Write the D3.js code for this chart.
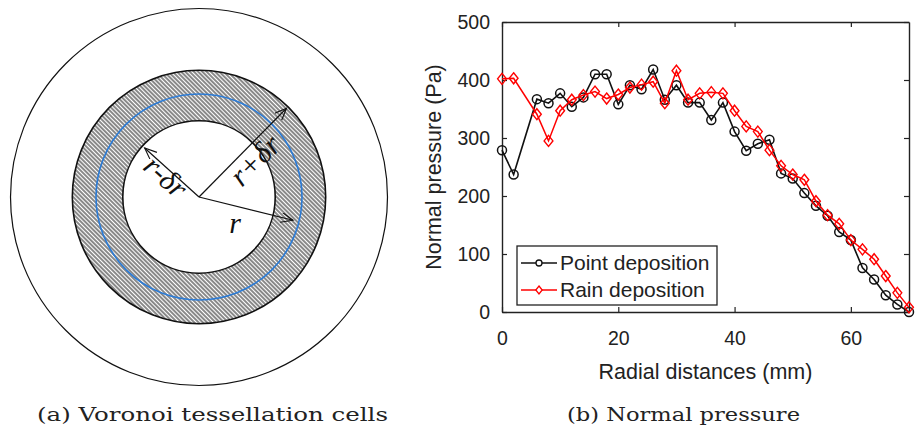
<!DOCTYPE html>
<html>
<head>
<meta charset="utf-8">
<script src="https://cdn.jsdelivr.net/npm/d3@7"></script>
<style>
  body { margin: 0; background: #fff; }
  svg { display: block; }
</style>
</head>
<body>
<svg id="fig" width="917" height="432"></svg>
<script>
// data
var distances = [0, 2, 6, 8, 10, 12, 14, 16, 18, 20, 22, 24, 26, 28, 30, 32, 34, 36, 38, 40, 42, 44, 46, 48, 50, 52, 54, 56, 58, 60, 62, 64, 66, 68, 70];
var pointDeposition = [279, 237, 367, 360, 377, 354, 370, 410, 410, 358, 391, 384, 418, 366, 391, 361, 361, 331, 361, 311, 278, 290, 297, 239, 230, 205, 183, 166, 138, 124, 76, 56, 29, 13, 0];
var rainDeposition = [402, 403, 341, 295, 347, 366, 374, 380, 368, 375, 387, 392, 397, 360, 416, 366, 377, 379, 377, 347, 320, 311, 279, 252, 237, 228, 191, 167, 152, 124, 108, 91, 62, 33, 8];
var xTicks = [0, 20, 40, 60];
var yTicks = [0, 100, 200, 300, 400, 500];
var seriesNames = ['Point deposition', 'Rain deposition'];

// diagram (a): radii in units of r
var ringRadii = { inner: 0.74, mid: 1.0, outer: 1.23, domain: 1.83 };
var arrows = [
  { angle: 138, len: 0.71, label: 'r-\u03b4r', rot: 42, lx: -0.32, ly: 0.20 },
  { angle: 45.4, len: 1.21, label: 'r+\u03b4r', rot: -45, lx: 0.54, ly: 0.36 },
  { angle: -13.9, len: 0.94, label: 'r', rot: 0, lx: 0.35, ly: -0.25 }
];

var svg = d3.select('#fig');

// ---------- (a) Voronoi cells ----------
var defs = svg.append('defs');
var pat = defs.append('pattern')
  .attr('id', 'hatch')
  .attr('patternUnits', 'userSpaceOnUse')
  .attr('width', 3).attr('height', 3)
  .attr('patternTransform', 'rotate(-45)');
pat.append('rect').attr('width', 3).attr('height', 3).attr('fill', '#fff');
pat.append('line').attr('x1', 1).attr('y1', 0).attr('x2', 1).attr('y2', 3)
  .attr('stroke', '#3a3a3a').attr('stroke-width', 1.2);

defs.append('marker')
  .attr('id', 'arrow')
  .attr('markerUnits', 'userSpaceOnUse')
  .attr('markerWidth', 14).attr('markerHeight', 12)
  .attr('refX', 12).attr('refY', 5)
  .attr('orient', 'auto')
  .append('path')
  .attr('d', 'M0,0 L12,5 L0,10')
  .attr('fill', 'none').attr('stroke', '#111').attr('stroke-width', 1.1);

var cx = 199, cy = 197;
var rs = d3.scaleLinear().domain([0, 1]).range([0, 103]);
var ga = svg.append('g').attr('transform', 'translate(' + cx + ',' + cy + ')');

ga.append('circle').attr('r', rs(ringRadii.domain))
  .attr('fill', 'none').attr('stroke', '#111').attr('stroke-width', 1.2);
ga.append('circle').attr('r', rs(ringRadii.outer))
  .attr('fill', 'url(#hatch)').attr('stroke', '#111').attr('stroke-width', 1.6);
ga.append('circle').attr('r', rs(ringRadii.inner))
  .attr('fill', '#fff').attr('stroke', '#111').attr('stroke-width', 1.6);
ga.append('circle').attr('r', rs(ringRadii.mid))
  .attr('fill', 'none').attr('stroke', '#2b7bd6').attr('stroke-width', 1.6);

arrows.forEach(function(a) {
  var t = a.angle * Math.PI / 180;
  ga.append('line')
    .attr('x1', 0).attr('y1', 0)
    .attr('x2', rs(a.len) * Math.cos(t)).attr('y2', -rs(a.len) * Math.sin(t))
    .attr('stroke', '#111').attr('stroke-width', 1.2)
    .attr('marker-end', 'url(#arrow)');
  ga.append('text')
    .attr('transform', 'translate(' + rs(a.lx) + ',' + (-rs(a.ly)) + ') rotate(' + a.rot + ')')
    .attr('text-anchor', 'middle')
    .attr('dy', '0.35em')
    .style('font-family', '"Liberation Serif", "Times New Roman", serif')
    .style('font-style', 'italic')
    .style('font-size', '30px')
    .attr('fill', '#111')
    .text(a.label);
});

// ---------- (b) Normal pressure ----------
var x = d3.scaleLinear().domain([0, 70]).range([502, 909]);
var y = d3.scaleLinear().domain([0, 500]).range([312, 22]);
var sans = '"Liberation Sans", Arial, sans-serif';

var gb = svg.append('g');

gb.append('g')
  .attr('transform', 'translate(0,' + y(0) + ')')
  .call(d3.axisBottom(x).tickValues(xTicks).tickSizeInner(-5).tickSizeOuter(0).tickPadding(19))
  .call(styleAxis);
gb.append('g')
  .attr('transform', 'translate(' + x(0) + ',0)')
  .call(d3.axisLeft(y).tickValues(yTicks).tickSizeInner(-5).tickSizeOuter(0).tickPadding(12))
  .call(styleAxis);
gb.append('g')
  .attr('transform', 'translate(0,' + y(500) + ')')
  .call(d3.axisTop(x).tickValues(xTicks).tickSizeInner(-5).tickSizeOuter(0).tickFormat(''))
  .call(styleAxis);
gb.append('g')
  .attr('transform', 'translate(' + x(70) + ',0)')
  .call(d3.axisRight(y).tickValues(yTicks).tickSizeInner(-5).tickSizeOuter(0).tickFormat(''))
  .call(styleAxis);

function styleAxis(g) {
  g.select('.domain').attr('stroke', '#222').attr('stroke-width', 1.4);
  g.selectAll('.tick line').attr('stroke', '#222').attr('stroke-width', 1.2);
  g.selectAll('.tick text').attr('fill', '#222')
    .style('font-family', sans).style('font-size', '19.5px');
}

var rows = distances.map(function(d, i) {
  return { d: d, p: pointDeposition[i], r: rainDeposition[i] };
});

var linePoint = d3.line().x(function(d) { return x(d.d); }).y(function(d) { return y(d.p); });
var lineRain = d3.line().x(function(d) { return x(d.d); }).y(function(d) { return y(d.r); });

var diamond = function(s) { return 'M0,' + (-s) + 'L' + (s * 0.8) + ',0L0,' + s + 'L' + (-s * 0.8) + ',0Z'; };

// point deposition first, rain on top
gb.append('path').datum(rows).attr('d', linePoint)
  .attr('fill', 'none').attr('stroke', '#111').attr('stroke-width', 1.6);
gb.selectAll('.pt').data(rows).enter().append('circle')
  .attr('class', 'pt')
  .attr('cx', function(d) { return x(d.d); })
  .attr('cy', function(d) { return y(d.p); })
  .attr('r', 4.5)
  .attr('fill', 'none').attr('stroke', '#111').attr('stroke-width', 1.5);

gb.append('path').datum(rows).attr('d', lineRain)
  .attr('fill', 'none').attr('stroke', '#f00').attr('stroke-width', 1.5);
gb.selectAll('.rn').data(rows).enter().append('path')
  .attr('class', 'rn')
  .attr('transform', function(d) { return 'translate(' + x(d.d) + ',' + y(d.r) + ')'; })
  .attr('d', diamond(5.5))
  .attr('fill', 'none').attr('stroke', '#f00').attr('stroke-width', 1.4);

// axis titles
gb.append('text')
  .attr('x', (x(0) + x(70)) / 2).attr('y', 371)
  .attr('text-anchor', 'middle').attr('dy', '0.35em')
  .style('font-family', sans).style('font-size', '21.5px').attr('fill', '#222')
  .text('Radial distances (mm)');
gb.append('text')
  .attr('transform', 'translate(433,' + (y(0) + y(500)) / 2 + ') rotate(-90)')
  .attr('text-anchor', 'middle').attr('dy', '0.35em')
  .style('font-family', sans).style('font-size', '21.5px').attr('fill', '#222')
  .text('Normal pressure (Pa)');

// legend
var lg = gb.append('g').attr('transform', 'translate(517,246)');
lg.append('rect').attr('width', 200).attr('height', 59)
  .attr('fill', '#fff').attr('stroke', '#222').attr('stroke-width', 1.3);
var legendColors = ['#111', '#f00'];
seriesNames.forEach(function(name, i) {
  var yy = 17 + i * 27;
  lg.append('line').attr('x1', 4).attr('x2', 40).attr('y1', yy).attr('y2', yy)
    .attr('stroke', legendColors[i]).attr('stroke-width', 1.5);
  if (i === 0) {
    lg.append('circle').attr('cx', 22).attr('cy', yy).attr('r', 3)
      .attr('fill', '#fff').attr('stroke', legendColors[i]).attr('stroke-width', 1.3);
  } else {
    lg.append('path').attr('transform', 'translate(22,' + yy + ')').attr('d', diamond(4))
      .attr('fill', '#fff').attr('stroke', legendColors[i]).attr('stroke-width', 1.3);
  }
  lg.append('text').attr('x', 43).attr('y', yy).attr('dy', '0.35em')
    .style('font-family', sans).style('font-size', '21px').attr('fill', '#222')
    .text(name);
});

// captions
var serif = '"DejaVu Serif", "Liberation Serif", serif';
svg.append('text').attr('x', 37).attr('y', 421)
  .attr('textLength', 351).attr('lengthAdjust', 'spacingAndGlyphs')
  .style('font-family', serif).style('font-size', '19px').attr('fill', '#222')
  .text('(a) Voronoi tessellation cells');
svg.append('text').attr('x', 567).attr('y', 421)
  .attr('textLength', 233).attr('lengthAdjust', 'spacingAndGlyphs')
  .style('font-family', serif).style('font-size', '19px').attr('fill', '#222')
  .text('(b) Normal pressure');
</script>
</body>
</html>
